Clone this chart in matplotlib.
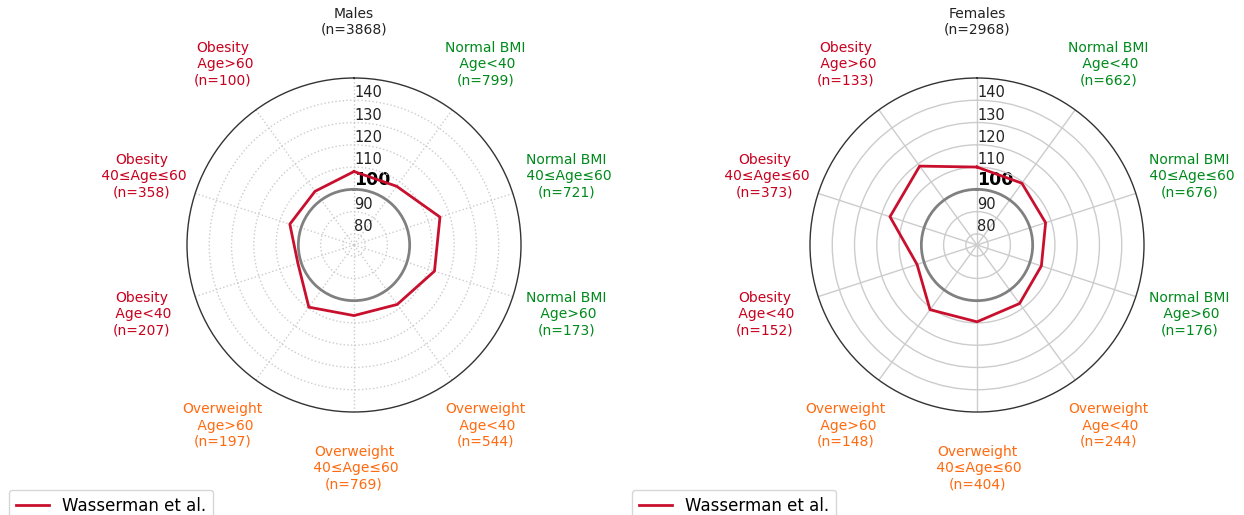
import numpy as np
import matplotlib
matplotlib.use("Agg")
import matplotlib.pyplot as plt

# categories (first spoke is the whole group, then 9 BMI/age subgroups)
groups = ["Normal BMI"] * 3 + ["Overweight"] * 3 + ["Obesity"] * 3
ages = ["Age<40", "40≤Age≤60", "Age>60"] * 3
group_colors = {"Normal BMI": "#00891c", "Overweight": "#ff6a0f", "Obesity": "#c8001e"}

n_male = [799, 721, 173, 544, 769, 197, 207, 358, 100]
n_female = [662, 676, 176, 244, 404, 148, 152, 373, 133]
n_male_total = 3868
n_female_total = 2968

# values (overall first, then the 9 subgroups)
males = [108.0, 107.6, 115.6, 113.0, 108.0, 106.7, 109.5, 101.5, 105.3, 104.8]
females = [110.0, 109.3, 107.4, 105.4, 107.5, 109.5, 110.9, 103.3, 116.1, 118.8]

rticks = [80, 90, 100, 110, 120, 130, 140]
series_name = "Wasserman et al."
line_color = "#c8102e"


def radar(ax, values, title, total, ns, grid_ls):
    k = len(values)
    angles = np.linspace(0, 2 * np.pi, k, endpoint=False)
    ax.set_theta_zero_location("N")
    ax.set_theta_direction(-1)

    a = np.append(angles, angles[0])
    v = np.append(values, values[0])
    ax.plot(a, v, color=line_color, lw=2, label=series_name, zorder=3)

    labels = ["%s\n(n=%d)" % (title, total)]
    labels += ["%s\n %s\n(n=%d)" % (g, ag, n) for g, ag, n in zip(groups, ages, ns)]
    ax.set_xticks(angles)
    ax.set_xticklabels(labels, fontsize=10)
    ax.tick_params(axis="x", pad=30)
    for i, lab in enumerate(ax.get_xticklabels()):
        if i == 0:
            lab.set_color("#222222")
        else:
            lab.set_color(group_colors[groups[i - 1]])

    ax.set_ylim(75, 150)
    ax.set_yticks(rticks)
    ax.set_yticklabels([str(t) for t in rticks], fontsize=10.5, color="#222222")
    ax.set_rlabel_position(0)
    for lab in ax.get_yticklabels():
        if lab.get_text() == "100":
            lab.set_fontweight("bold")
            lab.set_fontsize(12.5)
            lab.set_color("black")

    ax.grid(True, color="#cccccc", ls=grid_ls, lw=1)
    # reference ring at 100
    gl = ax.yaxis.get_gridlines()[rticks.index(100)]
    gl.set_color("#808080")
    gl.set_linestyle("-")
    gl.set_linewidth(2)
    ax.spines["polar"].set_color("#333333")
    ax.spines["polar"].set_linewidth(1)


fig = plt.figure(figsize=(12.44, 5.15), dpi=100)
ax1 = fig.add_axes([187 / 1244, 1 - 412 / 515, 334 / 1244, 334 / 515], projection="polar")
ax2 = fig.add_axes([810 / 1244, 1 - 412 / 515, 334 / 1244, 334 / 515], projection="polar")

radar(ax1, males, "Males", n_male_total, n_male, ":")
radar(ax2, females, "Females", n_female_total, n_female, "-")

ax1.legend(loc="upper left", bbox_to_anchor=(9 / 1244, 1 - 490 / 515),
           bbox_transform=fig.transFigure, fontsize=12, borderaxespad=0)
ax2.legend(loc="upper left", bbox_to_anchor=(632 / 1244, 1 - 490 / 515),
           bbox_transform=fig.transFigure, fontsize=12, borderaxespad=0)

fig.savefig("out.png", dpi=100)
